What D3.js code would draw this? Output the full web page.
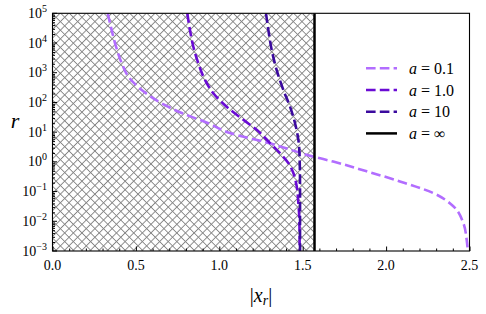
<!DOCTYPE html>
<html>
<head>
<meta charset="utf-8">
<script src="https://cdn.jsdelivr.net/npm/d3@7"></script>
<style>
  body { margin: 0; background: #fff; }
  svg text { font-family: "Liberation Serif", "DejaVu Serif", serif; fill: #000; }
</style>
</head>
<body>
<svg id="chart" width="486" height="314"></svg>
<script>
// values: |x_r| and r for every a
var a01_x = [0.331, 0.345, 0.375, 0.415, 0.455, 0.535, 0.655, 0.775, 0.934, 1.064, 1.284, 1.564, 1.683, 1.884, 2.083, 2.283, 2.403, 2.463, 2.483, 2.49];
var a01_r = [1e5, 4.6e4, 9.8e3, 2.1e3, 740, 263, 93, 44, 20, 9.3, 4.5, 1.5, 1.02, 0.48, 0.22, 0.089, 0.032, 0.0087, 0.0024, 0.001];

var a1_x = [0.808, 0.824, 0.844, 0.874, 0.914, 0.964, 1.044, 1.144, 1.224, 1.304, 1.364, 1.414, 1.444, 1.464, 1.474, 1.48, 1.482];
var a1_r = [1e5, 2.75e4, 7.6e3, 2.1e3, 575, 204, 72, 26, 12, 4.3, 1.95, 0.91, 0.42, 0.15, 0.041, 0.011, 0.001];

var a10_x = [1.28, 1.294, 1.314, 1.344, 1.384, 1.424, 1.454, 1.474, 1.482, 1.484, 1.484];
var a10_r = [1e5, 2.75e4, 5.9e3, 1.23e3, 263, 72, 20, 5.5, 1.17, 0.1, 0.001];

var a_inf_x = Math.PI / 2;

var series_labels = ["0.1", "1.0", "10", "\u221e"];
var series_colors = ["#b26dff", "#6a0bd4", "#3b0a9e", "#000000"];

var x_ticks = [0.0, 0.5, 1.0, 1.5, 2.0, 2.5];
var y_exps = [-3, -2, -1, 0, 1, 2, 3, 4, 5];

var margin = {left: 52.5, right: 16.5, top: 13.3, bottom: 63};
var width = 486, height = 314;

var svg = d3.select("#chart");

var x = d3.scaleLinear().domain([0, 2.5]).range([margin.left, width - margin.right]);
var y = d3.scaleLog().domain([1e-3, 1e5]).range([height - margin.bottom, margin.top]);

// hatch pattern ('xx' style)
var defs = svg.append("defs");
var s = 6.1;
var pat = defs.append("pattern")
	.attr("id", "hatch")
	.attr("patternUnits", "userSpaceOnUse")
	.attr("width", s).attr("height", s)
	.attr("patternTransform", "rotate(45)");
pat.append("path")
	.attr("d", "M0," + s/2 + "H" + s + "M" + s/2 + ",0V" + s)
	.attr("stroke", "#858585")
	.attr("stroke-width", 0.95)
	.attr("fill", "none");

defs.append("clipPath").attr("id", "plot_clip")
	.append("rect")
	.attr("x", x(0)).attr("y", y(1e5))
	.attr("width", x(2.5) - x(0)).attr("height", y(1e-3) - y(1e5));

var plot = svg.append("g").attr("clip-path", "url(#plot_clip)");

plot.append("rect")
	.attr("x", x(0))
	.attr("y", y(1e5))
	.attr("width", x(a_inf_x) - x(0))
	.attr("height", y(1e-3) - y(1e5))
	.attr("fill", "url(#hatch)");

var line = d3.line()
	.x(function(d) { return x(d[0]); })
	.y(function(d) { return y(d[1]); })
	.curve(d3.curveMonotoneY);

var curves = [d3.zip(a01_x, a01_r), d3.zip(a1_x, a1_r), d3.zip(a10_x, a10_r)];

curves.forEach(function(c, i) {
	plot.append("path")
		.attr("d", line(c))
		.attr("fill", "none")
		.attr("stroke", series_colors[i])
		.attr("stroke-width", 2.6)
		.attr("stroke-dasharray", "9.6,4.2");
});

plot.append("line")
	.attr("x1", x(a_inf_x)).attr("x2", x(a_inf_x))
	.attr("y1", y(1e-3)).attr("y2", y(1e5))
	.attr("stroke", "#000")
	.attr("stroke-width", 2.5);

// axes
var x_axis = d3.axisBottom(x)
	.tickValues(d3.range(0, 2.51, 0.1))
	.tickSize(-2.5)
	.tickFormat("");
var xg = svg.append("g").attr("transform", "translate(0," + y(1e-3) + ")").call(x_axis);
xg.attr("font-family", null).attr("font-size", null);
xg.selectAll(".tick line").filter(function(d) { return x_ticks.some(function(t) { return Math.abs(t - d) < 1e-6; }); })
	.attr("y2", -4.5);

svg.selectAll(".xlab").data(x_ticks).enter().append("text")
	.attr("x", function(d) { return x(d); })
	.attr("y", 269.5)
	.attr("text-anchor", "middle")
	.attr("font-size", 14)
	.text(function(d) { return d.toFixed(1); });

var minor = [];
y_exps.forEach(function(e) {
	if (e < 5) {
		for (var k = 2; k < 10; k++) minor.push(k * Math.pow(10, e));
	}
});
var y_axis = d3.axisLeft(y).tickValues(minor).tickSize(-2.5).tickFormat("");
var yg = svg.append("g").attr("transform", "translate(" + x(0) + ",0)").call(y_axis);
yg.attr("font-family", null).attr("font-size", null);
yg.selectAll(".tick-major").data(y_exps).enter().append("line")
	.attr("x1", 0).attr("x2", 4.5)
	.attr("y1", function(d) { return y(Math.pow(10, d)); })
	.attr("y2", function(d) { return y(Math.pow(10, d)); })
	.attr("stroke", "#000");

var ylab = yg.selectAll(".ylab").data(y_exps).enter().append("text")
	.attr("x", -5.5)
	.attr("y", function(d) { return y(Math.pow(10, d)) + 4.5; })
	.attr("text-anchor", "end")
	.attr("font-size", 14);
ylab.append("tspan").text("10");
ylab.append("tspan")
	.attr("dy", -6)
	.attr("font-size", 10)
	.text(function(d) { return d < 0 ? "\u2212" + (-d) : String(d); });

svg.selectAll(".domain").remove();

// frame
svg.append("rect")
	.attr("x", x(0)).attr("y", y(1e5))
	.attr("width", x(2.5) - x(0)).attr("height", y(1e-3) - y(1e5))
	.attr("fill", "none")
	.attr("stroke", "#000")
	.attr("stroke-width", 1.1);

// axis labels
var xl = svg.append("text")
	.attr("x", (x(0) + x(2.5)) / 2)
	.attr("y", 302)
	.attr("text-anchor", "middle")
	.attr("font-size", 20);
xl.append("tspan").text("|");
xl.append("tspan").attr("font-style", "italic").text("x");
xl.append("tspan").attr("font-style", "italic").attr("font-size", 14).attr("dy", 3).text("r");
xl.append("tspan").attr("dy", -3).text("|");

svg.append("text")
	.attr("x", 15)
	.attr("y", 128)
	.attr("text-anchor", "middle")
	.attr("font-size", 22)
	.attr("font-style", "italic")
	.text("r");

// legend
var legend = svg.append("g").attr("transform", "translate(366,68.3)");
var rows = legend.selectAll("g").data(series_labels).enter().append("g")
	.attr("transform", function(d, i) { return "translate(0," + (i * 21.7) + ")"; });
rows.append("line")
	.attr("x1", 0).attr("x2", 31)
	.attr("stroke", function(d, i) { return series_colors[i]; })
	.attr("stroke-width", function(d, i) { return i == 3 ? 2.5 : 2.6; })
	.attr("stroke-dasharray", function(d, i) { return i == 3 ? null : "9.6,4.2"; });
var lt = rows.append("text")
	.attr("x", 43)
	.attr("y", 5.5)
	.attr("font-size", 16);
lt.append("tspan").attr("font-style", "italic").text("a");
lt.append("tspan").text(function(d) { return " = " + d; });
</script>
</body>
</html>
